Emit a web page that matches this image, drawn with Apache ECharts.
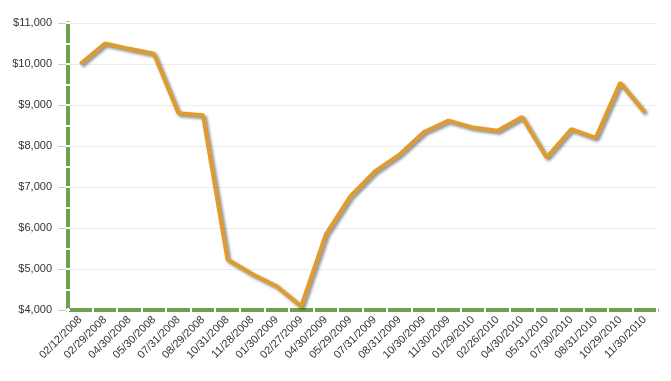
<!DOCTYPE html>
<html>
<head>
<meta charset="utf-8">
<script src="https://cdn.jsdelivr.net/npm/echarts@6/dist/echarts.min.js"></script>
<style>html,body{margin:0;padding:0;background:#fff}#c{width:671px;height:381px}</style>
</head>
<body>
<div id="c"></div>
<script>
var categories = ['02/12/2008','02/29/2008','04/30/2008','05/30/2008','07/31/2008','08/29/2008','10/31/2008','11/28/2008','01/30/2009','02/27/2009','04/30/2009','05/29/2009','07/31/2009','08/31/2009','10/30/2009','11/30/2009','01/29/2010','02/26/2010','04/30/2010','05/31/2010','07/30/2010','08/31/2010','10/29/2010','11/30/2010'];
var values = [10000,10500,10370,10250,8800,8750,5230,4880,4580,4090,5840,6770,7380,7790,8340,8620,8450,8370,8710,7720,8410,8200,9545,8820];
var yMin = 4000, yMax = 11000, yStep = 1000, ySegStep = 500;

var font = 'Liberation Sans, Arial, sans-serif';
var chart = echarts.init(document.getElementById('c'), null, {renderer: 'canvas'});
chart.setOption({
  animation: false,
  grid: {left: 68, right: 14, top: 23, bottom: 71},
  xAxis: [{
    type: 'category', data: categories, boundaryGap: true, position: 'bottom',
    axisLine: {show: true, lineStyle: {color: '#6fa04c', width: 4}},
    axisTick: {show: false},
    axisLabel: {rotate: 45, margin: 8, fontSize: 11, color: '#333', fontFamily: font, interval: 0}
  }, {
    type: 'category', data: categories, boundaryGap: true, position: 'bottom', offset: 2, z: 5,
    axisLine: {show: false},
    axisTick: {show: true, inside: true, length: 4, interval: 0, lineStyle: {color: '#fff', width: 2}},
    axisLabel: {show: false}, splitLine: {show: false}
  }],
  yAxis: [{
    type: 'value', min: yMin, max: yMax, interval: yStep, position: 'left',
    axisLine: {show: true, lineStyle: {color: '#6fa04c', width: 4}},
    axisTick: {show: true, length: 10, lineStyle: {color: '#c0cde0', width: 1}},
    axisLabel: {margin: 16, fontSize: 11, color: '#333', fontFamily: font,
      formatter: function(v){ return '$' + v.toLocaleString('en-US'); }},
    splitLine: {show: true, lineStyle: {color: '#ececec', width: 1}}
  }, {
    type: 'value', min: yMin, max: yMax, interval: ySegStep, position: 'left', offset: 2, z: 5,
    axisLine: {show: false},
    axisTick: {show: true, inside: true, length: 4, lineStyle: {color: '#fff', width: 2}},
    axisLabel: {show: false}, splitLine: {show: false}
  }],
  series: [{
    type: 'line', data: values, xAxisIndex: 0, yAxisIndex: 0, z: 3,
    symbol: 'none',
    lineStyle: {color: '#df9b2e', width: 4, shadowColor: 'rgba(0,0,0,0.45)', shadowBlur: 3, shadowOffsetX: 2, shadowOffsetY: 2}
  }]
});
</script>
</body>
</html>
